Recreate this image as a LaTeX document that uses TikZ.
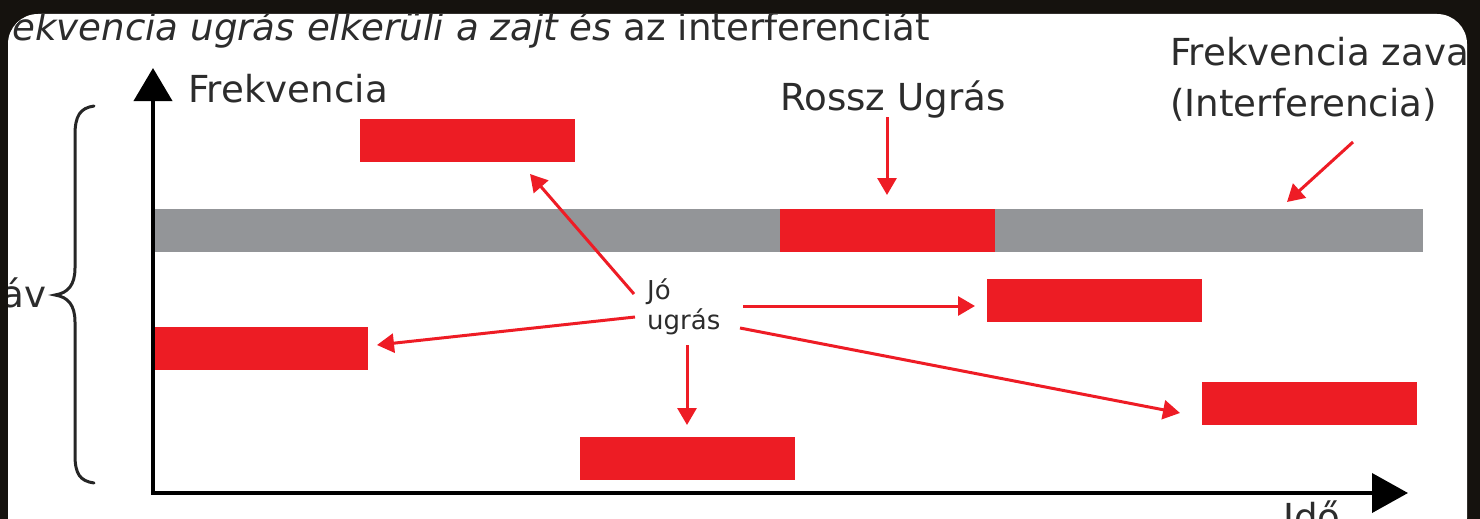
\documentclass[tikz,border=0pt]{standalone}
\usepackage{fontspec}
\setmainfont{DejaVu Sans}
\usetikzlibrary{arrows.meta}
\definecolor{bgdark}{HTML}{15120E}
\definecolor{redbar}{HTML}{ED1C24}
\definecolor{graybar}{HTML}{939598}
\definecolor{txt}{HTML}{2C2C2C}
\definecolor{arr}{HTML}{EE1C25}
\tikzset{
  lbl/.style={font=\fontsize{37.2}{43}\selectfont, text=txt, inner sep=0pt, anchor=base west},
  smalllbl/.style={font=\fontsize{26}{30}\selectfont, text=txt, inner sep=0pt, align=left, anchor=north west},
  rbar/.style={fill=redbar, inner sep=0pt, minimum width=215pt, minimum height=43pt},
  gbar/.style={fill=graybar, inner sep=0pt, minimum width=1270pt, minimum height=43pt},
  axisline/.style={line width=4pt, black, {Triangle[length=33pt,width=38pt]}-{Triangle[length=36pt,width=39pt]}},
  redarrow/.style={line width=3pt, arr, -{Triangle[length=17pt,width=19pt]}},
  bracepath/.style={line width=3pt, black!85, line cap=round}
}
\begin{document}
\begin{tikzpicture}[x=1pt,y=-1pt]
\useasboundingbox (0,0) rectangle (1480,519);
\fill[bgdark] (0,0) rectangle (1480,519);
\begin{scope}
\clip[rounded corners=30pt] (8,14) rectangle (1467,548);
\fill[white] (0,0) rectangle (1480,548);
% title
\node[lbl] (title) at (12,41) {\itshape ekvencia ugrás elkerüli a zajt és\upshape\ az interferenciát};
% bars
\node[gbar] (noise) at (788,230.5) {};
\node[rbar] (b1) at (467,140.5) {};
\node[rbar] (bad) at (887,230.5) {};
\node[rbar] (bleft) at (260,348) {};
\node[rbar] (bmid) at (1094.5,300) {};
\node[rbar] (bbot) at (687,458) {};
\node[rbar] (brbot) at (1309.5,403.5) {};
% axes
\coordinate (ytip) at (153,68);
\coordinate (xtip) at (1408,493);
\draw[axisline] (ytip) |- (xtip);
% labels
\node[lbl] (freq) at (188,102) {Frekvencia};
\node[lbl] (rossz) at (780,110) {Rossz Ugrás};
\node[lbl] (intf1) at (1170,66) {Frekvencia zava};
\node[lbl] (intf2) at (1170,116) {(Interferencia)};
\node[lbl] (ido) at (1283,530) {Idő};
\node[lbl] (sav) at (1,307) {áv};
\node[smalllbl] (jo) at (647,279) {Jó\\ugrás};
% brace
\draw[bracepath] (94,106) .. controls (80,108) and (75,116) .. (75,135) -- (75,268) .. controls (75,285) and (68,293) .. (55,295) .. controls (68,297) and (75,305) .. (75,322) -- (75,455) .. controls (75,474) and (80,481) .. (94,483);
% arrows
\coordinate (r0) at (887,117); \coordinate (r1) at (887,195);
\coordinate (i0) at (1353,142); \coordinate (i1) at (1287,202);
\coordinate (a1) at (634,294); \coordinate (e1) at (530,174);
\coordinate (a2) at (635,317); \coordinate (e2) at (377,345);
\coordinate (a3) at (743,306); \coordinate (e3) at (975,306);
\coordinate (a4) at (740,328); \coordinate (e4) at (1180,413);
\coordinate (a5) at (687,345); \coordinate (e5) at (687,425);
\draw[redarrow] (r0) -- (r1);
\draw[redarrow] (i0) -- (i1);
\draw[redarrow] (a1) -- (e1);
\draw[redarrow] (a2) -- (e2);
\draw[redarrow] (a3) -- (e3);
\draw[redarrow] (a4) -- (e4);
\draw[redarrow] (a5) -- (e5);
\end{scope}
\end{tikzpicture}
\end{document}
